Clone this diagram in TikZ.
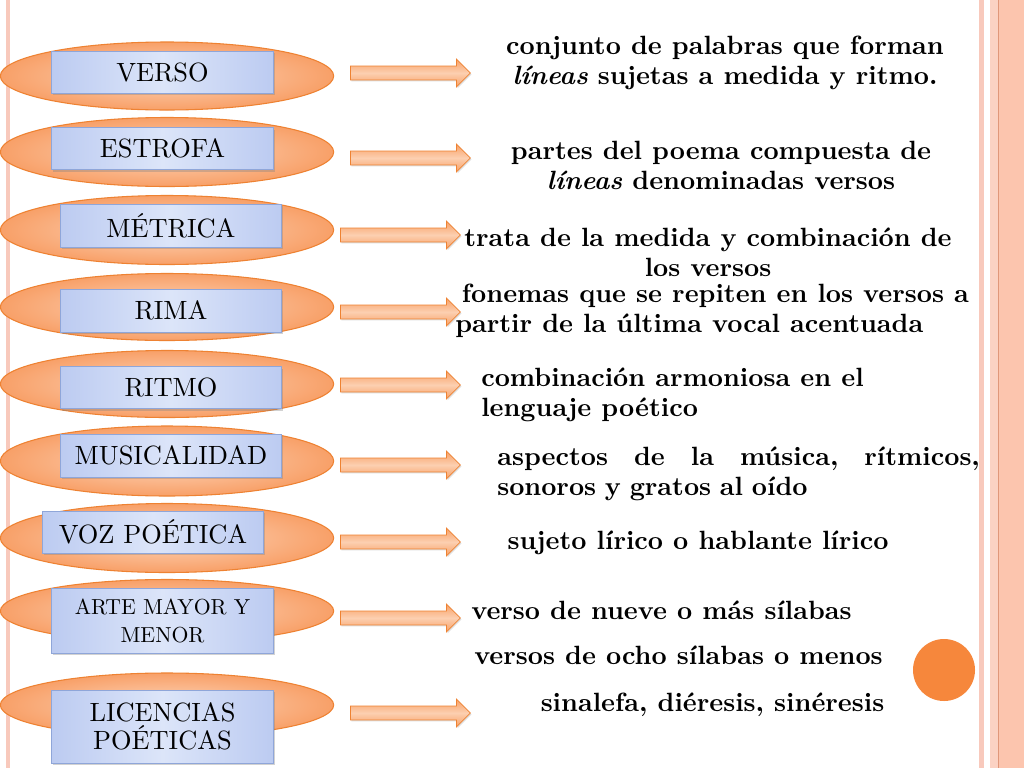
\documentclass[tikz,border=0pt]{standalone}
\usepackage{fontspec}
\setmainfont{lmroman10}[Extension=.otf, UprightFont=*-regular, BoldFont=*-bold,
    ItalicFont=*-italic, BoldItalicFont=*-bolditalic]
\usepackage{xcolor}
\usepackage{tikz}
\usetikzlibrary{shapes,shapes.arrows,shadows,positioning}

\definecolor{ovalfill}{HTML}{F8A068}
\definecolor{ovallight}{HTML}{FDD5BA}
\definecolor{ovaledge}{HTML}{EE8232}
\definecolor{boxleft}{HTML}{BCCBF1}
\definecolor{boxright}{HTML}{DCE5F9}
\definecolor{boxedge}{HTML}{8FA6D9}
\definecolor{arrowdark}{HTML}{F8A065}
\definecolor{arrowlight}{HTML}{FCCFB0}
\definecolor{stripe}{HTML}{F8C9BC}
\definecolor{stripelight}{HTML}{FBD2C3}
\definecolor{stripedeep}{HTML}{FCC5AE}
\definecolor{stripedark}{HTML}{E0977A}
\definecolor{dotorange}{HTML}{F6873C}

\begin{document}
\begin{tikzpicture}[x=0.75pt,y=-0.75pt,
    oval/.style={ellipse, draw=ovaledge, line width=0.8pt, inner sep=0pt,
        inner color=ovallight, outer color=ovalfill, minimum width=250pt},
    term/.style={rectangle, draw=boxedge, line width=0.6pt, inner sep=2pt,
        left color=boxleft, right color=boxleft, middle color=boxright,
        minimum width=166pt, align=center,
        drop shadow={shadow xshift=1pt, shadow yshift=-1.5pt, opacity=0.35}},
    pointer/.style={single arrow, draw=ovaledge, line width=0.6pt,
        top color=arrowdark, bottom color=arrowdark, middle color=arrowlight,
        inner xsep=0pt, inner ysep=4.9pt, minimum height=90pt,
        single arrow head extend=5.2pt, single arrow head indent=0pt, anchor=tail,
        drop shadow={shadow xshift=0.8pt, shadow yshift=-1pt, opacity=0.25}},
    desc/.style={font=\fontsize{19.8}{22.5}\selectfont\bfseries, inner sep=0pt}]

    % Page and side stripes
    \useasboundingbox (0,0) rectangle (1024,768);
    \fill[white] (0,0) rectangle (1024,768);
    \fill[stripe] (6,0) rectangle (10,768);
    \fill[stripe] (979,0) rectangle (983.5,768);
    \fill[stripelight] (990,0) rectangle (998,768);
    \fill[stripedeep] (998,0) rectangle (1024,768);
    \draw[stripedark,line width=0.8pt] (998.5,0) -- (998.5,768);

    % Terms: oval, box and arrow
    \foreach \n/\ey/\eh/\bx/\by/\bh/\fs/\ax/\ay/\lab in {
        1/76/68/162.5/72/42/19.8/350/73/VERSO,
        2/152/69/162.5/148.5/42/19.8/350/158/ESTROFA,
        3/230/69/171/225.5/43/19.8/340/235/MÉTRICA,
        4/307/67/171/310.5/43/19.8/340/312/RIMA,
        5/384/67/171/387.5/42/19.8/340/385/RITMO,
        6/461/70/171/455.5/43/19.8/340/465/MUSICALIDAD,
        7/538/69/153/532/42/19.8/340/542/VOZ POÉTICA,
        8/611/63/162.5/620.5/65/16.3/340/618/{ARTE MAYOR Y\\MENOR},
        9/705/64/162.5/726.5/73/19.8/350/713/{LICENCIAS\\POÉTICAS}} {
        \node[oval, minimum height=\eh*0.75pt] (oval\n) at (167,\ey) {};
        \node[term, minimum height=\bh*0.75pt, font=\fontsize{\fs}{21}\selectfont]
            (term\n) at (\bx,\by) {\lab};
        \node[pointer] (ptr\n) at (\ax,\ay) {};
    }

    % Definitions
    \node[desc, align=center] (def1) at (725,63) {conjunto de palabras que forman\\\textit{líneas} sujetas a medida y ritmo.};
    \node[desc, align=center] (def2) at (721,165) {partes del poema compuesta de\\\textit{líneas} denominadas versos};
    \node[desc, align=center] (def3) at (708,252) {trata de la medida y combinación de\\los versos};
    \node[desc, align=left, anchor=west] (def4) at (455,311) {\hspace{5pt}fonemas que se repiten en los versos a\\partir de la última vocal acentuada};
    \node[desc, align=left, anchor=west] (def5) at (481,395) {combinación armoniosa en el\\lenguaje poético};
    \node[desc, align=left, anchor=west, text width=362pt] (def6) at (497,473.5) {aspectos\hfill de\hfill la\hfill música,\hfill rítmicos,\\sonoros y gratos al oído};
    \node[desc] (def7) at (698,543) {sujeto lírico o hablante lírico};
    \node[desc] (def8) at (661.5,610) {verso de nueve o más sílabas};
    \node[desc] (def9) at (678.5,655) {versos de ocho sílabas o menos};
    \node[desc] (def10) at (712.5,705) {sinalefa, diéresis, sinéresis};

    % Orange dot
    \fill[dotorange] (944,670) circle (23.25pt);
\end{tikzpicture}
\end{document}
